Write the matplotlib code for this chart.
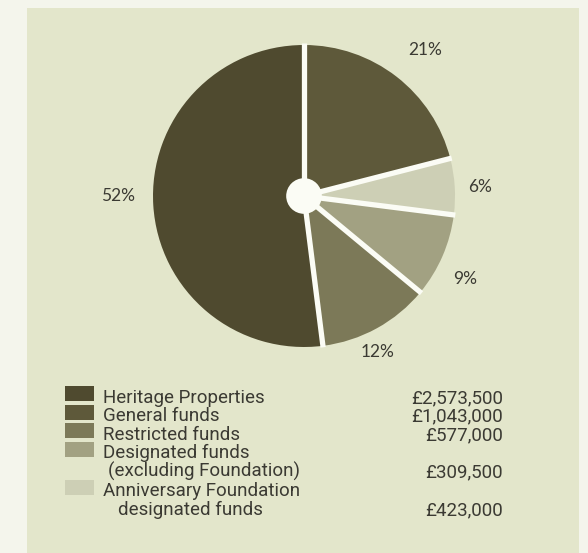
import matplotlib
matplotlib.use("Agg")
import matplotlib.pyplot as plt
import numpy as np
from matplotlib.patches import Rectangle, Circle

# ---- data ----
legend_labels = [["Heritage Properties"], ["General funds"], ["Restricted funds"],
                 ["Designated funds", "(excluding Foundation)"],
                 ["Anniversary Foundation", "designated funds"]]
legend_amounts = ["£2,573,500", "£1,043,000", "£577,000", "£309,500", "£423,000"]
legend_colors = ["#4f4a2f", "#5e593a", "#7c7958", "#a2a182", "#cdcfb5"]

# pie slices as drawn (counter-clockwise from 12 o'clock)
pie_shares = [52, 12, 9, 6, 21]
pie_colors = ["#4f4a2f", "#7c7958", "#a2a182", "#cdcfb5", "#5e593a"]
pie_label_dist = [1.23, 1.14, 1.2, 1.17, 1.26]
pie_label_turn = [-3.6, -3.4, -3.9, -0.7, -1.9]

W, H = 588, 553
fig = plt.figure(figsize=(W / 100, H / 100), dpi=100)
fig.patch.set_facecolor("#f4f5ec")

# background panel
bg = fig.add_axes([0, 0, 1, 1])
bg.set_xlim(0, W)
bg.set_ylim(H, 0)
bg.axis("off")
bg.add_patch(Rectangle((27, 8), 552, 560, facecolor="#e3e6cb", edgecolor="none"))

# pie axes
cx, cy, r = 304, 196, 151
axp = fig.add_axes([(cx - r) / W, 1 - (cy + r) / H, 2 * r / W, 2 * r / H])
wedges, _ = axp.pie(pie_shares, colors=pie_colors, startangle=90, counterclock=True,
                    radius=1.0, center=(0, 0),
                    wedgeprops=dict(edgecolor="none", linewidth=0))
axp.set_xlim(-1, 1)
axp.set_ylim(-1, 1)
axp.set_aspect("auto")
axp.axis("off")
for w in wedges:
    w.set_clip_on(False)

tot = sum(pie_shares)
bounds = 90 + np.concatenate([[0], np.cumsum(pie_shares)]) / tot * 360
for b in bounds[:-1]:
    a = np.deg2rad(b)
    axp.plot([0, 1.01 * np.cos(a)], [0, 1.01 * np.sin(a)], color="#fbfcf5",
             lw=3.8, solid_capstyle="butt", zorder=4, clip_on=False)
axp.add_patch(Circle((0, 0), 0.118, facecolor="#fbfcf5", edgecolor="none", zorder=5))

for share, b0, b1, d, t in zip(pie_shares, bounds[:-1], bounds[1:], pie_label_dist,
                               pie_label_turn):
    mid = np.deg2rad((b0 + b1) / 2 + t)
    axp.text(d * np.cos(mid), d * np.sin(mid), f"{share}%", ha="center", va="center",
             fontsize=12.5, color="#3b3a33", family="Lato", clip_on=False)

# legend
sw_y = [386, 405, 423, 442, 480]
base_y = [403, 421, 440, 458, 496]
indent = [None, None, None, 108, 118]
line_h = 19
for lines, amt, col, sy, by, ind in zip(legend_labels, legend_amounts, legend_colors,
                                        sw_y, base_y, indent):
    bg.add_patch(Rectangle((65, sy), 29, 15, facecolor=col, edgecolor="none"))
    for i, ln in enumerate(lines):
        x = 103 if i == 0 else ind
        bg.text(x, by + i * line_h, ln, ha="left", va="baseline", fontsize=13.5,
                color="#3b3a33", family="Roboto")
    bg.text(503, by + (len(lines) - 1) * line_h, amt, ha="right", va="baseline",
            fontsize=13.5, color="#3b3a33", family="Roboto")

fig.savefig("out.png", dpi=100, facecolor=fig.get_facecolor())
